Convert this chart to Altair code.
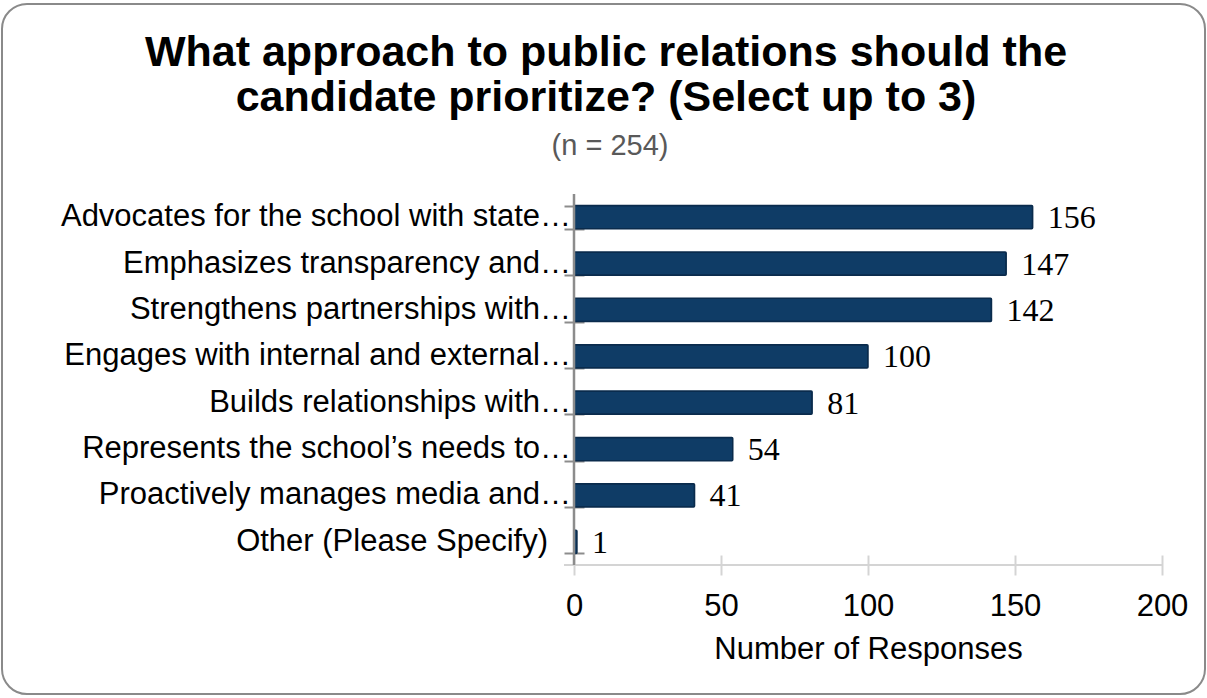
import altair as alt
import pandas as pd

categories = [
    "Advocates for the school with state…",
    "Emphasizes transparency and…",
    "Strengthens partnerships with…",
    "Engages with internal and external…",
    "Builds relationships with…",
    "Represents the school’s needs to…",
    "Proactively manages media and…",
    "Other (Please Specify)",
]
responses = [156, 147, 142, 100, 81, 54, 41, 1]
x_ticks = [0, 50, 100, 150, 200]
title_lines = ["What approach to public relations should the",
               "candidate prioritize? (Select up to 3)"]
subtitle_text = "(n = 254)"
x_title = "Number of Responses"

W, H = 588, 371
FONT = "Liberation Sans"

df = pd.DataFrame({"approach": categories, "responses": responses})
one = pd.DataFrame({"k": [0]})

yscale = alt.Scale(paddingInner=0.5, paddingOuter=0.25)
ydef = alt.Y(
    "approach:N", sort=categories, title=None, scale=yscale,
    axis=alt.Axis(
        offset=-10, tickSize=20, tickBand="extent", domain=False,
        tickColor="#8c8c8c", tickWidth=2, labels=False,
    ),
)
xdef = alt.X(
    "responses:Q", title=x_title,
    scale=alt.Scale(domain=[0, 200], nice=False),
    axis=alt.Axis(
        values=x_ticks, offset=-10, tickSize=20, domain=False, grid=False,
        tickColor="#d4d4d4", tickWidth=2, labelPadding=16, labelFlush=False,
        labelFont=FONT, labelFontSize=31, labelColor="black",
        titleFont=FONT, titleFontSize=31, titleColor="black",
        titleFontWeight="normal", titlePadding=13,
    ),
)

border = alt.Chart(one).mark_rect(
    fill="transparent", stroke="#8a8a8a", strokeWidth=2, cornerRadius=25
).encode(x=alt.value(-572), x2=alt.value(631), y=alt.value(-190), y2=alt.value(500))

bars = alt.Chart(df).mark_bar(
    color="#0f3c66", stroke="#0a2b4c", strokeWidth=1.5, cornerRadius=1
).encode(x=xdef, y=ydef)

value_labels = alt.Chart(df).mark_text(
    align="left", baseline="middle", dx=15, dy=1,
    font="Liberation Serif", fontSize=32, color="black"
).encode(
    x=alt.X("responses:Q"),
    y=alt.Y("approach:N", sort=categories),
    text=alt.Text("responses:Q"),
)

# category labels: truncated ones run up to the axis, full ones keep padding
cat_cut = alt.Chart(df).transform_filter(
    "indexof(datum.approach, '\u2026') >= 0"
).mark_text(
    align="right", baseline="middle", font=FONT, fontSize=31, color="black"
).encode(
    x=alt.value(-3), y=alt.Y("approach:N", sort=categories), text="approach:N"
)
cat_full = alt.Chart(df).transform_filter(
    "indexof(datum.approach, '\u2026') < 0"
).mark_text(
    align="right", baseline="middle", font=FONT, fontSize=31, color="black"
).encode(
    x=alt.value(-26), y=alt.Y("approach:N", sort=categories), text="approach:N"
)

x_line = alt.Chart(one).mark_rule(color="#d4d4d4", strokeWidth=2).encode(
    x=alt.value(-10), x2=alt.value(W), y=alt.value(H))
y_line = alt.Chart(one).mark_rule(color="#8c8c8c", strokeWidth=2.5).encode(
    x=alt.value(0), y=alt.value(0), y2=alt.value(H))

title1 = alt.Chart(one).mark_text(
    align="center", baseline="alphabetic", font=FONT, fontSize=43,
    fontWeight="bold", color="black"
).encode(x=alt.value(32), y=alt.value(-128), text=alt.value(title_lines[0]))
title2 = alt.Chart(one).mark_text(
    align="center", baseline="alphabetic", font=FONT, fontSize=43,
    fontWeight="bold", color="black"
).encode(x=alt.value(32), y=alt.value(-83), text=alt.value(title_lines[1]))
subtitle = alt.Chart(one).mark_text(
    align="center", baseline="alphabetic", font=FONT, fontSize=29,
    color="#595959"
).encode(x=alt.value(36), y=alt.value(-39), text=alt.value(subtitle_text))

chart = alt.layer(
    bars, value_labels, cat_cut, cat_full, x_line, y_line,
    title1, title2, subtitle, border
).properties(
    width=W, height=H,
    padding={"left": 574, "top": 194, "right": 45, "bottom": 133},
    autosize=alt.AutoSizeParams(type="none"),
    background="white",
).configure_view(strokeWidth=0)

chart.save("out.html", embed_options={"renderer": "svg", "actions": False})
